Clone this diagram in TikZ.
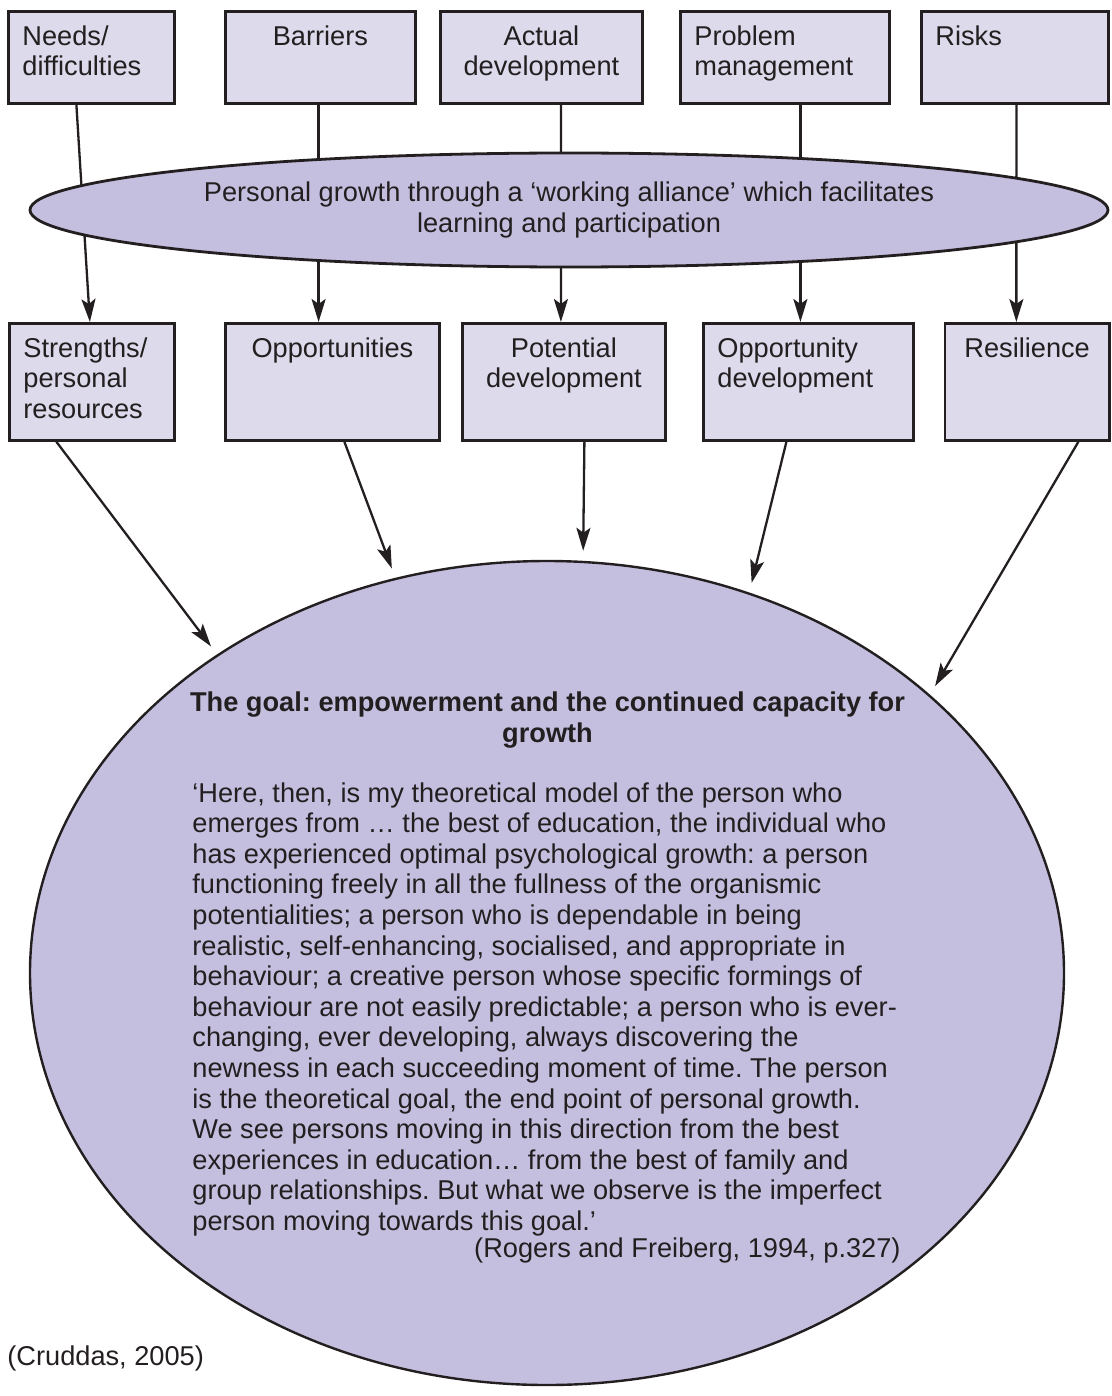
\documentclass[tikz,border=0pt]{standalone}
\usepackage{fontspec}
\setmainfont{Liberation Sans}
\usepackage{xcolor}
\usepackage{tikz}
\usetikzlibrary{arrows.meta,positioning,shapes.geometric}
\definecolor{inkDark}{HTML}{231F20}
\definecolor{boxLilac}{HTML}{DCDAEB}
\definecolor{ovalLilac}{HTML}{C4BFDE}
\frenchspacing

\begin{document}
\begin{tikzpicture}[x=0.5pt, y=-0.5pt, font=\fontsize{13.6}{15.3}\selectfont, text=inkDark,
  box/.style={draw=inkDark, line width=1.4pt, fill=boxLilac, anchor=north west, inner sep=0pt},
  boxtext/.style={inner sep=0pt, align=left},
  link/.style={draw=inkDark, line width=1.15pt, -{Stealth[length=11.5pt, width=7pt, inset=2.5pt]}}]
  \useasboundingbox (0,0) rectangle (1112,1396);
  % top row
  \node[box, minimum width=83pt,  minimum height=46pt] (needs)    at (7,10)   {};
  \node[box, minimum width=95pt,  minimum height=46pt] (barriers) at (224,10) {};
  \node[box, minimum width=101pt, minimum height=46pt] (actual)   at (439,10) {};
  \node[box, minimum width=104.5pt, minimum height=46pt] (problem) at (679,10) {};
  \node[box, minimum width=93.5pt, minimum height=46pt] (risks)   at (920,10) {};
  \node[boxtext, anchor=north west] (needs-txt) at ([shift={(15,15)}]needs.north west) {Needs/\\difficulties};
  \node[boxtext, anchor=north, align=center] (barriers-txt) at ([yshift=-7.5pt]barriers.north) {Barriers};
  \node[boxtext, anchor=north, align=center] (actual-txt) at ([yshift=-7.5pt]actual.north) {Actual\\development};
  \node[boxtext, anchor=north west] (problem-txt) at ([shift={(15,15)}]problem.north west) {Problem\\management};
  \node[boxtext, anchor=north west] (risks-txt) at ([shift={(15,15)}]risks.north west) {Risks};
  % second row
  \node[box, minimum width=82.5pt, minimum height=58.5pt] (strengths) at (8,322)   {};
  \node[box, minimum width=107pt,  minimum height=58.5pt] (opps)      at (224,322) {};
  \node[box, minimum width=101.5pt, minimum height=58.5pt] (potential) at (461,322) {};
  \node[box, minimum width=105pt,  minimum height=58.5pt] (oppdev)    at (702,322) {};
  \node[box, minimum width=82.25pt, minimum height=58.5pt] (resil)    at (943.5,322) {};
  \node[boxtext, anchor=north west] (strengths-txt) at ([shift={(15,15)}]strengths.north west) {Strengths/\\personal\\resources};
  \node[boxtext, anchor=north, align=center] (opps-txt) at ([yshift=-7.5pt]opps.north) {Opportunities};
  \node[boxtext, anchor=north, align=center] (potential-txt) at ([yshift=-7.5pt]potential.north) {Potential\\development};
  \node[boxtext, anchor=north west] (oppdev-txt) at ([shift={(15,15)}]oppdev.north west) {Opportunity\\development};
  \node[boxtext, anchor=north, align=center] (resil-txt) at ([yshift=-7.5pt]resil.north) {Resilience};
  % links through the alliance (drawn under it)
  \draw[link] ([xshift=-7.5pt]needs.south)  -- ([xshift=-1pt]strengths.north);
  \draw[link] ([xshift=-0.9pt]barriers.south) -- ([xshift=-6.9pt]opps.north);
  \draw[link] ([xshift=9.8pt]actual.south)  -- ([xshift=-1.5pt]potential.north);
  \draw[link] ([xshift=7.75pt]problem.south) -- ([xshift=-4pt]oppdev.north);
  \draw[link] ([xshift=0.75pt]risks.south)  -- ([xshift=-5.4pt]resil.north);
  % working alliance
  \node[ellipse, draw=inkDark, line width=1.4pt, fill=ovalLilac, inner sep=0pt,
        minimum width=539pt, minimum height=57pt, align=center] (alliance) at (569,210)
    {Personal growth through a ‘working alliance’ which facilitates\\learning and participation};
  % the goal
  \node[ellipse, draw=inkDark, line width=1.2pt, fill=ovalLilac, inner sep=0pt,
        minimum width=517pt, minimum height=412pt] (goal) at (547,973) {};
  \draw[link, shorten >=5pt] ([xshift=-17.75pt]strengths.south) -- (goal.136);
  \draw[link, shorten >=5pt] ([xshift=6pt]opps.south)           -- (goal.111.5);
  \draw[link, shorten >=5pt] ([xshift=10.25pt]potential.south)  -- (goal.85);
  \draw[link, shorten >=5pt] ([xshift=-11pt]oppdev.south)       -- (goal.62);
  \draw[link, shorten >=5pt] ([xshift=25.6pt]resil.south)       -- (goal.36);
  \node[inner sep=0pt, anchor=north, align=center, font=\fontsize{13.6}{15.5}\selectfont\bfseries] (goal-title) at (547.5,691)
    {The goal: empowerment and the continued capacity for\\growth};
  \node[inner sep=0pt, anchor=north west, align=left] (goal-quote) at (192,782)
    {‘Here, then, is my theoretical model of the person who\\
     emerges from … the best of education, the individual who\\
     has experienced optimal psychological growth: a person\\
     functioning freely in all the fullness of the organismic\\
     potentialities; a person who is dependable in being\\
     realistic, self-enhancing, socialised, and appropriate in\\
     behaviour; a creative person whose specific formings of\\
     behaviour are not easily predictable; a person who is ever-\\
     changing, ever developing, always discovering the\\
     newness in each succeeding moment of time. The person\\
     is the theoretical goal, the end point of personal growth.\\
     We see persons moving in this direction from the best\\
     experiences in education… from the best of family and\\
     group relationships. But what we observe is the imperfect\\
     person moving towards this goal.’};
  \node[inner sep=0pt, anchor=base east] (goal-cite) at (901,1257) {(Rogers and Freiberg, 1994, p.327)};
  % source
  \node[inner sep=0pt, anchor=base west] (source) at (7,1365) {(Cruddas, 2005)};
\end{tikzpicture}
\end{document}
